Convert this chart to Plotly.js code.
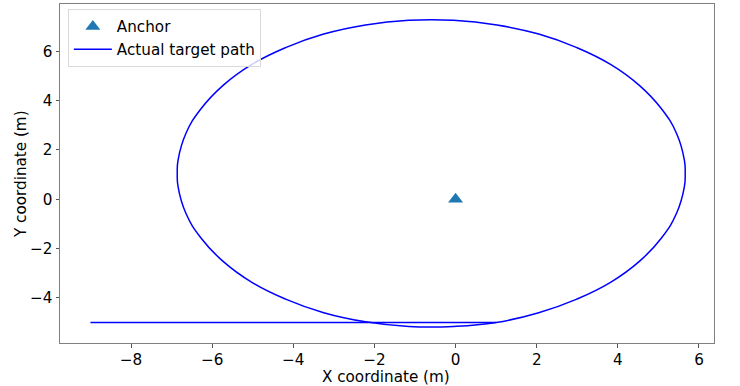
<!DOCTYPE html>
<html>
<head>
<meta charset="utf-8">
<script src="https://cdn.plot.ly/plotly-3.0.1.min.js"></script>
<style>html,body{margin:0;padding:0;background:#fff;}#chart{width:740px;height:386px;}</style>
</head>
<body>
<div id="chart"></div>
<script>
// Anchor position
const anchorX = [0];
const anchorY = [0];

// Actual target path, part 1: straight approach at y = -5
const approachX = [-9.0, 1.0];
const approachY = [-5.0, -5.0];

// Actual target path, part 2: the loop (starts and ends where the approach ends)
const loopX = [1.0, 2.05, 2.99, 3.83, 4.53, 5.07, 5.45, 5.64, 5.66, 5.64, 5.45, 5.07, 4.53, 3.83, 2.99, 2.05, 1.02, -0.05, -1.15, -2.22, -3.25, -4.19, -5.03, -5.73, -6.27, -6.65, -6.84, -6.86, -6.84, -6.65, -6.27, -5.73, -5.03, -4.19, -3.25, -2.22, -1.15, -0.05, 1.0];
const loopY = [-5.0, -4.60, -4.05, -3.36, -2.52, -1.58, -0.56, 0.51, 1.05, 1.59, 2.66, 3.68, 4.62, 5.46, 6.15, 6.70, 7.07, 7.26, 7.26, 7.07, 6.70, 6.15, 5.46, 4.62, 3.68, 2.66, 1.59, 1.05, 0.51, -0.56, -1.58, -2.52, -3.36, -4.05, -4.60, -4.97, -5.16, -5.16, -5.0];

const xTicks = [-8, -6, -4, -2, 0, 2, 4, 6];
const yTicks = [-4, -2, 0, 2, 4, 6];

const xTitle = 'X coordinate (m)';
const yTitle = 'Y coordinate (m)';

const font = {family: 'DejaVu Sans', size: 15.2, color: '#000'};

const traces = [
  {
    x: anchorX, y: anchorY, type: 'scatter', mode: 'markers', name: 'Anchor',
    marker: {symbol: 'triangle-up', size: 13, color: '#1f77b4'}
  },
  {
    x: approachX, y: approachY, type: 'scatter', mode: 'lines', name: 'Actual target path',
    legendgroup: 'path', showlegend: true,
    line: {color: '#0000ff', width: 1.5}
  },
  {
    x: loopX, y: loopY, type: 'scatter', mode: 'lines', name: 'Actual target path',
    legendgroup: 'path', showlegend: false,
    line: {color: '#0000ff', width: 1.5, shape: 'spline', smoothing: 1.3}
  }
];

const axisCommon = {
  showgrid: false, zeroline: false, showline: true, mirror: true,
  linecolor: '#808080', linewidth: 1, ticks: 'outside', ticklen: 3.5,
  tickcolor: '#555', tickfont: font, automargin: false
};

const layout = {
  width: 740, height: 386,
  margin: {l: 60, r: 26, t: 4, b: 43},
  paper_bgcolor: '#fff', plot_bgcolor: '#fff',
  font: font,
  showlegend: true,
  legend: {
    x: 0.012, y: 0.985, xanchor: 'left', yanchor: 'top',
    bgcolor: 'rgba(255,255,255,0.8)', bordercolor: '#d9d9d9', borderwidth: 1,
    font: font, tracegroupgap: 0, itemwidth: 38
  },
  xaxis: Object.assign({}, axisCommon, {range: [-9.75, 6.37], tickvals: xTicks, ticklabelstandoff: -1}),
  yaxis: Object.assign({}, axisCommon, {range: [-5.83, 7.92], tickvals: yTicks}),
  annotations: [
    {text: xTitle, xref: 'paper', yref: 'paper', x: 0.499, y: -0.101,
     xanchor: 'center', yanchor: 'middle', showarrow: false, font: font},
    {text: yTitle, xref: 'paper', yref: 'paper', x: -0.0604, y: 0.5, textangle: -90,
     xanchor: 'center', yanchor: 'middle', showarrow: false, font: font}
  ]
};

Plotly.newPlot('chart', traces, layout, {displayModeBar: false, staticPlot: true});
</script>
</body>
</html>
